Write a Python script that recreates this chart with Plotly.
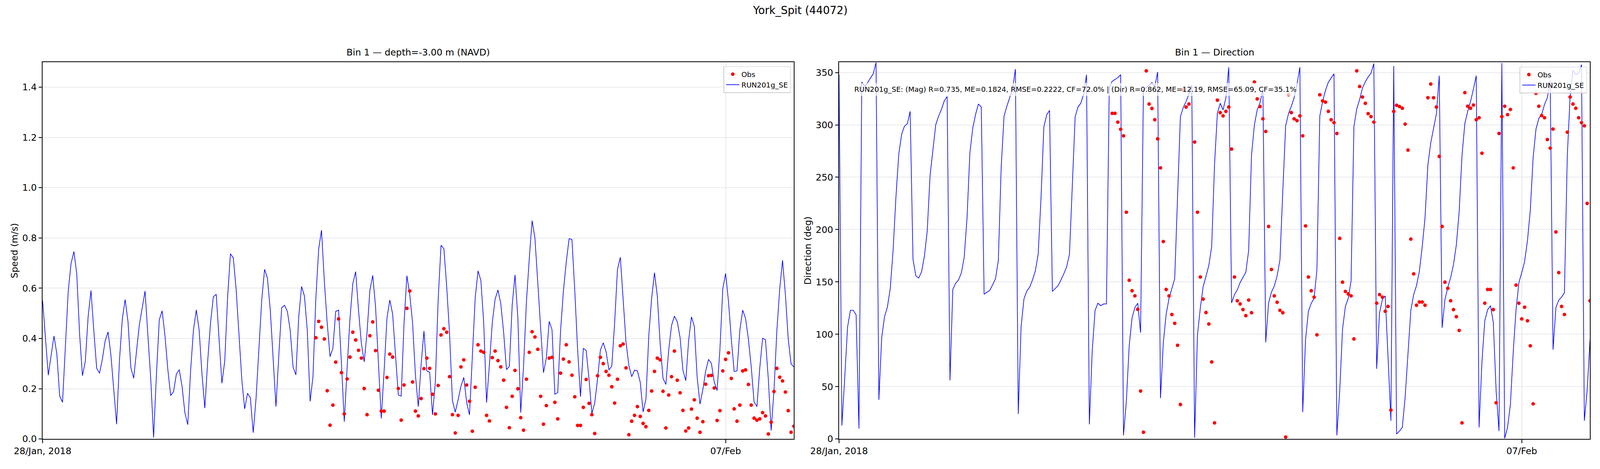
import pandas as pd
import plotly.graph_objects as go

# ---------------- data ----------------
start_time = "2018-01-28 00:00"
n_hours = 265
obs_start = 96  # first hour with observations

speed_model = [
    0.551, 0.395, 0.254, 0.334, 0.410, 0.339, 0.171, 0.146, 0.366, 0.589,
    0.699, 0.746, 0.657, 0.417, 0.252, 0.309, 0.487, 0.591, 0.430, 0.282,
    0.262, 0.318, 0.392, 0.426, 0.334, 0.201, 0.059, 0.312, 0.477, 0.555,
    0.468, 0.285, 0.242, 0.350, 0.455, 0.522, 0.589, 0.411, 0.239, 0.006,
    0.258, 0.475, 0.510, 0.411, 0.277, 0.173, 0.188, 0.258, 0.276, 0.210,
    0.104, 0.057, 0.271, 0.433, 0.514, 0.434, 0.258, 0.123, 0.309, 0.462,
    0.566, 0.576, 0.398, 0.222, 0.310, 0.564, 0.737, 0.721, 0.596, 0.411,
    0.236, 0.120, 0.182, 0.164, 0.025, 0.162, 0.366, 0.554, 0.675, 0.640,
    0.513, 0.315, 0.129, 0.334, 0.522, 0.532, 0.508, 0.433, 0.287, 0.255,
    0.487, 0.607, 0.569, 0.433, 0.150, 0.248, 0.557, 0.755, 0.831, 0.627,
    0.462, 0.328, 0.361, 0.508, 0.513, 0.303, 0.069, 0.283, 0.478, 0.618,
    0.666, 0.513, 0.382, 0.307, 0.424, 0.592, 0.651, 0.525, 0.303, 0.082,
    0.271, 0.481, 0.553, 0.497, 0.334, 0.175, 0.171, 0.462, 0.650, 0.576,
    0.462, 0.255, 0.129, 0.296, 0.430, 0.271, 0.266, 0.096, 0.226, 0.557,
    0.771, 0.757, 0.605, 0.417, 0.154, 0.107, 0.156, 0.210, 0.245, 0.146,
    0.096, 0.322, 0.561, 0.669, 0.631, 0.462, 0.145, 0.296, 0.462, 0.556,
    0.593, 0.538, 0.424, 0.276, 0.289, 0.532, 0.653, 0.481, 0.105, 0.290,
    0.545, 0.717, 0.869, 0.799, 0.621, 0.427, 0.264, 0.322, 0.468, 0.435,
    0.178, 0.185, 0.430, 0.589, 0.704, 0.797, 0.794, 0.589, 0.354, 0.169,
    0.361, 0.352, 0.239, 0.102, 0.143, 0.239, 0.354, 0.383, 0.347, 0.275,
    0.290, 0.462, 0.675, 0.723, 0.557, 0.385, 0.293, 0.248, 0.274, 0.271,
    0.226, 0.108, 0.159, 0.411, 0.559, 0.662, 0.569, 0.379, 0.242, 0.217,
    0.354, 0.452, 0.489, 0.467, 0.404, 0.274, 0.232, 0.392, 0.486, 0.448,
    0.245, 0.139, 0.197, 0.271, 0.317, 0.301, 0.227, 0.193, 0.357, 0.597,
    0.659, 0.548, 0.398, 0.269, 0.271, 0.433, 0.513, 0.480, 0.398, 0.287,
    0.148, 0.129, 0.283, 0.401, 0.395, 0.239, 0.034, 0.194, 0.430, 0.596,
    0.711, 0.576, 0.398, 0.299, 0.287,
]

speed_obs = [
    0.403, 0.468, 0.445, 0.398,
    0.192, 0.055, 0.135, 0.306, 0.478, 0.264, 0.100, 0.239, 0.326, 0.425,
    0.394, 0.353, 0.322, 0.201, 0.097, 0.411, 0.466, 0.352, 0.194, 0.111,
    0.111, 0.245, 0.338, 0.326, None, 0.201, 0.075, 0.215, 0.520, 0.589,
    0.227, 0.111, 0.092, 0.161, 0.280, 0.322, 0.281, 0.178, 0.100, 0.213,
    0.414, 0.439, 0.425, 0.248, 0.097, 0.024, 0.094, 0.287, 0.315, 0.215,
    0.150, 0.031, 0.206, 0.375, 0.350, 0.345, 0.094, 0.072, 0.324, 0.350,
    0.312, 0.287, 0.234, 0.126, 0.045, 0.170, 0.273, 0.200, 0.085, 0.035,
    0.238, 0.345, 0.427, 0.406, 0.357, 0.170, 0.059, 0.133, 0.322, 0.325,
    0.146, 0.080, 0.262, 0.318, 0.375, 0.307, 0.254, 0.168, 0.054, 0.054,
    0.126, 0.237, 0.142, 0.097, 0.022, 0.252, 0.325, 0.300, 0.269, 0.254,
    0.208, 0.143, 0.238, 0.371, 0.378, 0.283, 0.017, 0.071, 0.094, 0.129,
    0.090, 0.062, 0.049, 0.114, 0.191, 0.269, 0.322, 0.315, 0.190, 0.044,
    0.175, 0.248, 0.350, 0.234, 0.184, 0.114, 0.032, 0.044, 0.119, 0.156,
    0.083, 0.027, 0.069, 0.218, 0.252, 0.253, 0.203, 0.074, 0.113, 0.271,
    0.317, 0.343, 0.241, 0.120, 0.071, 0.135, 0.271, 0.275, 0.217, 0.135,
    0.083, 0.075, 0.080, 0.105, 0.092, 0.020, 0.067, 0.189, 0.281, 0.246,
    0.231, 0.187, 0.113, 0.027, 0.051,
]

dir_model = [
    348, 12.9, 58.4, 107, 123, 123, 118.5, 10, 341, 337,
    340, 344.6, 348.6, 359.5, 37.4, 97, 117, 126, 143.7, 180,
    231, 272, 291, 298.8, 301, 312.9, 171.7, 155.8, 153.7, 159.6,
    174.5, 198.6, 251.6, 276.9, 300.2, 308.4, 314.7, 323, 327.1, 56,
    143, 148.8, 151.9, 158.6, 173.6, 211.4, 273.4, 296.7, 310, 319.9,
    317, 138.3, 140.2, 142, 147.4, 153, 170.6, 259.3, 308.2, 317.8,
    326, 334, 353.3, 24, 107.5, 133.6, 141.4, 144.9, 151.9, 160.5,
    176.4, 230, 297.9, 309.6, 313.8, 140.9, 143.7, 146.5, 151.9, 157.7,
    164.3, 176.4, 241.8, 307.7, 317, 320.8, 329.4, 347.9, 14, 84.1,
    122.7, 129.7, 127.3, 129, 129, 335.7, 341.6, 343.2, 345.1, 347.9,
    3.5, 36.2, 88.8, 115.7, 125.5, 129.7, 101.6, 333.4, 335.7, 338,
    340.4, 336.4, 350.5, 39, 92.3, 119.2, 134.3, 143.7, 153, 231.3,
    307.7, 316.6, 322.4, 329.4, 337.6, 1.2, 99.3, 125, 145.6, 155.4,
    165.9, 184, 262, 311.2, 320.6, 314.3, 326, 355, 130, 137.9,
    142.5, 149.5, 154.2, 159.3, 180, 271, 299.8, 314.3, 321.3, 334.1,
    92.3, 130, 140.2, 146, 155.8, 171.3, 237.1, 299, 310.7, 317.8,
    326, 338.8, 355.1, 25.7, 95.1, 122, 129.7, 134.3, 161.9, 308.4,
    322.4, 332.9, 340.7, 344.6, 348.8, 3.5, 45.6, 105.1, 126.6, 134.3,
    151.2, 298.4, 315.4, 324.1, 335.3, 341.1, 345.8, 349.3, 358.6, 67,
    120.3, 133.2, 136.7, 77.8, 17.5, 356.3, 4.7, 7.7, 11, 39.7,
    83, 122.7, 137.9, 146.5, 160, 183.4, 211.4, 261.7, 282.7, 296.7,
    310.7, 347, 106.3, 133.2, 144.9, 154.2, 166.6, 185.3, 217.3, 271,
    301.4, 313, 322.4, 334.1, 347, 11, 73.6, 112.9, 123.4, 127.3,
    111.4, 45.6, 7.7, 359.1, 0.7, 11, 32.7, 83, 123.8, 149.5,
    158.9, 169.4, 189.3, 218.5, 268.7, 296, 306.1, 310, 319.4, 326,
    342.3, 85.3, 125.5, 132.5, 135.5, 139.7, 269.9, 327.1, 352.1, 348.1,
    349.3, 357.5, 17.5, 46.7, 95,
]

dir_obs = [
    311, 311, 302.6, 295.8,
    289.5, 216.6, 151.6, 141.6, 136.7, 123.8, 45.8, 6.5, 351.6, 319.9,
    315.7, 304.9, 286.7, 258.9, 188.6, 142.8, 136.7, 118.9, 110.5, 89.5,
    33, 333.6, 317, 319.9, None, 283.6, 216.6, 154.7, 133.6, 120.8,
    109.8, 73.6, 15.4, 323.6, 311.7, 308.6, 312.9, 317, 276.9, 154.7,
    132, 129, 123.6, 117.8, 132.7, 120.6, 340.9, 324.8, 317.5, 305.8,
    293.7, 203, 161.9, 136.7, 130.6, 122.9, 120.6, 1.9, 328.7, 311.7,
    305.8, 304, 308.6, 289.5, 203.5, 154.7, 141.6, 135.5, 99.5, 328.7,
    322.9, 321.7, 312.9, 304.9, 302.1, 291.8, 191.6, 149.8, 140.9, 138.6,
    136.7, 95.6, 351.6, 336.7, 326.6, 320.6, 310.7, 307.9, 302.6, 129.7,
    137.9, 135.5, 122, 126.6, 27.6, 312.9, 318.7, 317.5, 315.9, 300.7,
    275.9, 190.9, 157.7, 127.8, 130.8, 130.8, 127.8, 325.9, 339, 325.9,
    317, 269.9, 203, 149.8, 143.9, 132, 123.6, 116.8, 103.7, 15.4,
    330.8, 317.8, 315.9, 318.9, 304.9, 306.8, 272.9, 129.7, 142.8, 142.8,
    123.6, 34.6, 291.8, 307.9, 317.8, 309.8, 314.7, 258.9, 147, 129.7,
    114.7, 125.9, 112.9, 89, 33.6, 330.1, 317.8, 308.9, 306.8, 286,
    277.8, 296, 197.7, 158.9, 126.6, 118.9, 293, 326.6, 319.9, 315.9,
    306.8, 302.1, 299.1, 225, 132,
]

x_tick_vals = ["2018-01-28", "2018-02-07"]
x_tick_text = ["28/Jan, 2018", "07/Feb"]
x_range = ["2018-01-28 00:00", "2018-02-08 00:00"]
speed_ticks = [0.0, 0.2, 0.4, 0.6, 0.8, 1.0, 1.2, 1.4]
speed_tick_text = ["0.0", "0.2", "0.4", "0.6", "0.8", "1.0", "1.2", "1.4"]
dir_ticks = [0, 50, 100, 150, 200, 250, 300, 350]

suptitle = "York_Spit (44072)"
title_left = "Bin 1 \u2014 depth=-3.00 m (NAVD)"
title_right = "Bin 1 \u2014 Direction"
stats_text = ("RUN201g_SE: (Mag) R=0.735, ME=0.1824, RMSE=0.2222, CF=72.0% | "
              "(Dir) R=0.862, ME=12.19, RMSE=65.09, CF=35.1%")

times = pd.date_range(start_time, periods=n_hours, freq="h")
obs_times = times[obs_start:]

# ---------------- geometry ----------------
# The figure fills the browser viewport; positions are given as fractions
# of the 5000x1200 reference picture, corrected for the 8px body margin.
REF_W, REF_H = 5000, 1200
VW, VH = 4167, 1150       # approximate CSS viewport size
BODY_M = 8
S = VW / REF_W            # size scale (fonts, widths)


def fx(X):
    return (X / REF_W * VW - BODY_M) / (VW - 2 * BODY_M)


def fy(Y):
    return 1 - (Y / REF_H * VH - BODY_M) / (VH - 2 * BODY_M)


L1, R1 = 133, 2481
L2, R2 = 2622, 4969
TOP, BOT = 159, 1123

FONT = "DejaVu Sans"
BLUE = "#0000ff"
RED = "#ff0000"

fig = go.Figure()

fig.add_trace(go.Scatter(x=times, y=speed_model, mode="lines", name="RUN201g_SE",
                         line=dict(color=BLUE, width=2 * S), xaxis="x", yaxis="y",
                         legend="legend"))
fig.add_trace(go.Scatter(x=obs_times, y=speed_obs, mode="markers", name="Obs",
                         marker=dict(color=RED, size=11 * S), xaxis="x", yaxis="y",
                         legend="legend"))
fig.add_trace(go.Scatter(x=times, y=dir_model, mode="lines", name="RUN201g_SE",
                         line=dict(color=BLUE, width=2 * S), xaxis="x2", yaxis="y2",
                         legend="legend2"))
fig.add_trace(go.Scatter(x=obs_times, y=dir_obs, mode="markers", name="Obs",
                         marker=dict(color=RED, size=11 * S), xaxis="x2", yaxis="y2",
                         legend="legend2"))

axis_common = dict(
    showline=True, linecolor="black", linewidth=2.5 * S, mirror=True,
    ticks="outside", ticklen=10 * S, tickwidth=2.5 * S, tickcolor="black",
    showgrid=True, gridcolor="#e9e9e9", gridwidth=2 * S,
    zeroline=False, automargin=False,
    tickfont=dict(family=FONT, size=28 * S, color="black"),
)

xcommon = dict(axis_common, type="date", range=x_range,
               tickmode="array", tickvals=x_tick_vals, ticktext=x_tick_text)

legend_common = dict(
    font=dict(family=FONT, size=22 * S, color="black"),
    bgcolor="rgba(255,255,255,0.8)", bordercolor="#cccccc", borderwidth=2 * S,
    xanchor="right", yanchor="top", traceorder="reversed",
    itemwidth=34, tracegroupgap=0,
)

fig.update_layout(
    autosize=True,
    margin=dict(l=0, r=0, t=0, b=0),
    paper_bgcolor="white", plot_bgcolor="white",
    font=dict(family=FONT, color="black"),
    showlegend=True,
    xaxis=dict(xcommon, domain=[fx(L1), fx(R1)], anchor="y"),
    yaxis=dict(axis_common, domain=[fy(BOT), fy(TOP)], anchor="x",
               range=[0, 1.5], tickmode="array", tickvals=speed_ticks,
               ticktext=speed_tick_text),
    xaxis2=dict(xcommon, domain=[fx(L2), fx(R2)], anchor="y2"),
    yaxis2=dict(axis_common, domain=[fy(BOT), fy(TOP)], anchor="x2",
                range=[0, 360], tickmode="array", tickvals=dir_ticks),
    legend=dict(legend_common, x=fx(2471), y=fy(170)),
    legend2=dict(legend_common, x=fx(4959), y=fy(171)),
)


def note(text, X, Y, size, **kw):
    d = dict(text=text, x=fx(X), y=fy(Y), xref="paper", yref="paper",
             xanchor="center", yanchor="middle", showarrow=False,
             font=dict(family=FONT, size=size * S, color="black"))
    d.update(kw)
    return d


annotations = [
    note(suptitle, 2500, 8, 33, yanchor="top"),
    note(title_left, (L1 + R1) / 2, 134, 28),
    note(title_right, (L2 + R2) / 2, 134, 28),
    note("Speed (m/s)", 45, (TOP + BOT) / 2, 28, textangle=-90),
    note("Direction (deg)", 2525, (TOP + BOT) / 2, 28, textangle=-90),
    note(stats_text, 2662, 229, 22, xanchor="left",
         bgcolor="rgba(255,255,255,0.7)", borderpad=5),
]
fig.update_layout(annotations=annotations)

fig.write_html("out.html", default_width="100%",
               default_height="calc(100vh - 16px)")
